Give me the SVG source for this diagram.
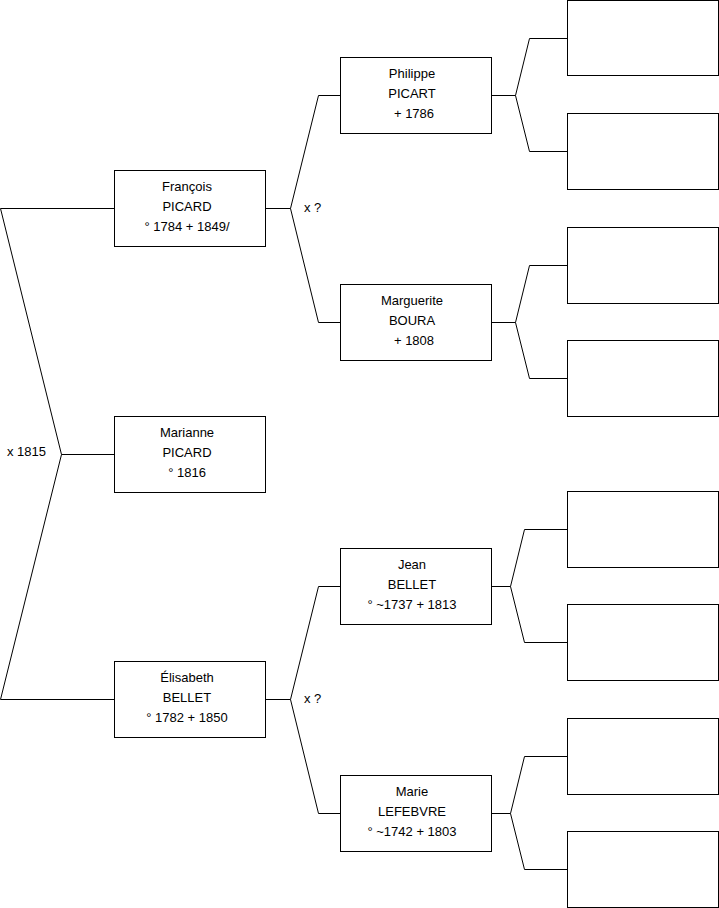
<svg xmlns="http://www.w3.org/2000/svg" width="719" height="908" viewBox="0 0 719 908">
<style>
rect{fill:#fff;stroke:#000;stroke-width:1}
.c{fill:none;stroke:#000;stroke-width:1}
text{font-family:"Liberation Sans",Arial,sans-serif;font-size:13px;fill:#000}
.m{text-anchor:middle}
</style>
<rect x="0" y="0" width="719" height="908" style="stroke:none"/>
<g id="connectors">
<polyline class="c" points="114,208.5 0.5,208.5 61.5,454.5 0.5,699.5 114,699.5"/>
<line class="c" x1="61.5" y1="454.5" x2="114" y2="454.5"/>
<polyline class="c" points="265,208.5 290.5,208.5"/>
<polyline class="c" points="340,95.5 318.5,95.5 290.5,208.5 318.5,322.5 340,322.5"/>
<polyline class="c" points="265,699.5 290.5,699.5"/>
<polyline class="c" points="340,586.5 318.5,586.5 290.5,699.5 318.5,813.5 340,813.5"/>
<polyline class="c" points="491,95.5 515.5,95.5"/>
<polyline class="c" points="567,38.5 529.5,38.5 515.5,95.5 529.5,151.5 567,151.5"/>
<polyline class="c" points="491,322.5 515.5,322.5"/>
<polyline class="c" points="567,265.5 529.5,265.5 515.5,322.5 529.5,378.5 567,378.5"/>
<polyline class="c" points="491,586.5 510.5,586.5"/>
<polyline class="c" points="567,529.5 524.5,529.5 510.5,586.5 524.5,642.5 567,642.5"/>
<polyline class="c" points="491,813.5 510.5,813.5"/>
<polyline class="c" points="567,756.5 524.5,756.5 510.5,813.5 524.5,869.5 567,869.5"/>
<text x="7" y="456">x 1815</text>
<text x="304" y="212">x ?</text>
<text x="304" y="703">x ?</text>
</g>
<g id="francois"><rect x="114.5" y="170.5" width="151" height="76"/>
<text class="m" x="187" y="191">François</text><text class="m" x="187" y="211">PICARD</text><text class="m" x="187" y="231">° 1784 + 1849/</text></g>
<g id="marianne"><rect x="114.5" y="416.5" width="151" height="76"/>
<text class="m" x="187" y="437">Marianne</text><text class="m" x="187" y="457">PICARD</text><text class="m" x="187" y="477">° 1816</text></g>
<g id="elisabeth"><rect x="114.5" y="661.5" width="151" height="76"/>
<text class="m" x="187" y="682">Élisabeth</text><text class="m" x="187" y="702">BELLET</text><text class="m" x="187" y="722">° 1782 + 1850</text></g>
<g id="philippe"><rect x="340.5" y="57.5" width="151" height="76"/>
<text class="m" x="412" y="78">Philippe</text><text class="m" x="412" y="98">PICART</text><text class="m" x="414" y="118">+ 1786</text></g>
<g id="marguerite"><rect x="340.5" y="284.5" width="151" height="76"/>
<text class="m" x="412" y="305">Marguerite</text><text class="m" x="412" y="325">BOURA</text><text class="m" x="414" y="345">+ 1808</text></g>
<g id="jean"><rect x="340.5" y="548.5" width="151" height="76"/>
<text class="m" x="412" y="569">Jean</text><text class="m" x="412" y="589">BELLET</text><text class="m" x="412" y="609">° ~1737 + 1813</text></g>
<g id="marie"><rect x="340.5" y="775.5" width="151" height="76"/>
<text class="m" x="412" y="796">Marie</text><text class="m" x="412" y="816">LEFEBVRE</text><text class="m" x="412" y="836">° ~1742 + 1803</text></g>
<g id="p1"><rect x="567.5" y="0.5" width="151" height="75"/></g>
<g id="p2"><rect x="567.5" y="113.5" width="151" height="76"/></g>
<g id="p3"><rect x="567.5" y="227.5" width="151" height="76"/></g>
<g id="p4"><rect x="567.5" y="340.5" width="151" height="76"/></g>
<g id="p5"><rect x="567.5" y="491.5" width="151" height="76"/></g>
<g id="p6"><rect x="567.5" y="604.5" width="151" height="76"/></g>
<g id="p7"><rect x="567.5" y="718.5" width="151" height="76"/></g>
<g id="p8"><rect x="567.5" y="831.5" width="151" height="76"/></g>
</svg>
